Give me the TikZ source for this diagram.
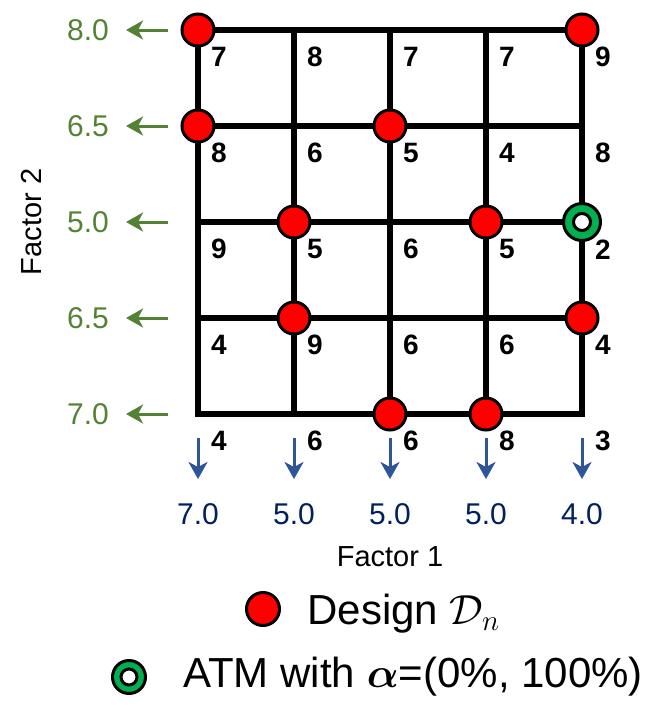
\documentclass[tikz,border=0pt]{standalone}
\usepackage{amsmath}
\usepackage{fontspec}
\setmainfont{Liberation Sans}
\usetikzlibrary{arrows.meta}
\definecolor{dotred}{RGB}{255,0,0}
\definecolor{atmgreen}{RGB}{0,176,80}
\definecolor{olivegr}{RGB}{84,130,53}
\definecolor{arrblue}{RGB}{47,85,151}
\definecolor{navyblue}{RGB}{0,32,96}
\begin{document}
\begin{tikzpicture}[x=1pt,y=-1pt,
  gridline/.style={line width=6.5pt, line join=miter},
  dot/.style={circle, fill=dotred, draw=black, line width=3pt, minimum size=32pt, inner sep=0pt},
  atmouter/.style={circle, fill=atmgreen, draw=black, line width=3pt, minimum size=#1, inner sep=0pt},
  atminner/.style={circle, fill=white, draw=black, line width=3pt, minimum size=#1, inner sep=0pt},
  val/.style={font=\fontsize{28}{28}\selectfont\bfseries, inner sep=0pt, anchor=east},
  ylab/.style={font=\fontsize{30}{30}\selectfont, text=olivegr, inner sep=0pt},
  xlab/.style={font=\fontsize{30}{30}\selectfont, text=navyblue, inner sep=0pt},
  axlab/.style={font=\fontsize{29}{29}\selectfont, inner sep=0pt},
  leglab/.style={font=\fontsize{20.74}{24}\selectfont, inner sep=0pt, scale=2.025},
  greenarrow/.style={draw=olivegr, line width=3pt, -{Stealth[length=17pt,width=19pt,inset=5pt]}},
  bluearrow/.style={draw=arrblue, line width=3pt, -{Stealth[length=17pt,width=19pt,inset=5pt]}}
]
\useasboundingbox (0,0) rectangle (668,724);

% grid points
\foreach \r in {0,...,4} {
  \foreach \c in {0,...,4} {
    \coordinate (p-\r-\c) at ({198+96*\c},{30+96*\r});
  }
}
% grid lines
\draw[gridline] (p-0-0) rectangle (p-4-4);
\foreach \k in {1,2,3} {
  \draw[gridline] (p-0-\k) -- (p-4-\k);
  \draw[gridline] (p-\k-0) -- (p-\k-4);
}

% grid values (right-aligned next to each grid point)
\foreach \r/\vals in {0/{7,8,7,7,9},1/{8,6,5,4,8},2/{9,5,6,5},3/{4,9,6,6,4},4/{4,6,6,8,3}} {
  \foreach \v [count=\c from 0] in \vals {
    \node[val] (v-\r-\c) at ({198+96*\c+29},{30+96*\r+27}) {\v};
  }
}
% the "1" of this label lies under the ATM marker
\node[val, anchor=base east] (v-2-4) at (611,259) {\raisebox{25pt}{1}\kern6pt 2};

% design points
\foreach \r/\c in {0/0,0/4,1/0,1/2,2/1,2/3,3/1,3/4,4/2,4/3} {
  \node[dot] (d-\r-\c) at (p-\r-\c) {};
}
% ATM point
\node[atmouter=37pt] (atm) at (p-2-4) {};
\node[atminner=17pt] (atmc) at (p-2-4) {};

% factor 2 levels (left)
\foreach \r/\t in {0/8.0,1/6.5,2/5.0,3/6.5,4/7.0} {
  \node[ylab] (ly-\r) at (88,{30+96*\r}) {\t};
  \coordinate (la-\r) at (168,{30+96*\r});
  \draw[greenarrow] (la-\r) -- (ly-\r.east) [shorten >=17pt];
}

% factor 1 levels (bottom)
\foreach \c/\t in {0/7.0,1/5.0,2/5.0,3/5.0,4/4.0} {
  \node[xlab] (lx-\c) at ({198+96*\c},514) {\t};
  \coordinate (ba-\c) at ({198+96*\c},438);
  \coordinate (bb-\c) at ({198+96*\c},479);
  \draw[bluearrow] (ba-\c) -- (bb-\c);
}

% axis labels
\node[axlab] (f1) at (390,557) {Factor 1};
\node[axlab, rotate=90] (f2) at (32,222) {Factor 2};

% legend
\node[dot, minimum size=33pt] (legdot) at (263,609) {};
\node[leglab, anchor=base west] (legd) at (307,624) {Design $\mathcal{D}_n$};
\node[atmouter=33pt] (legatm) at (129,677) {};
\node[atminner=16pt] (legatmc) at (129,677) {};
\node[leglab, anchor=base west] (lega) at (183,687) {ATM with $\boldsymbol{\alpha}$=(0\%, 100\%)};
\end{tikzpicture}
\end{document}
